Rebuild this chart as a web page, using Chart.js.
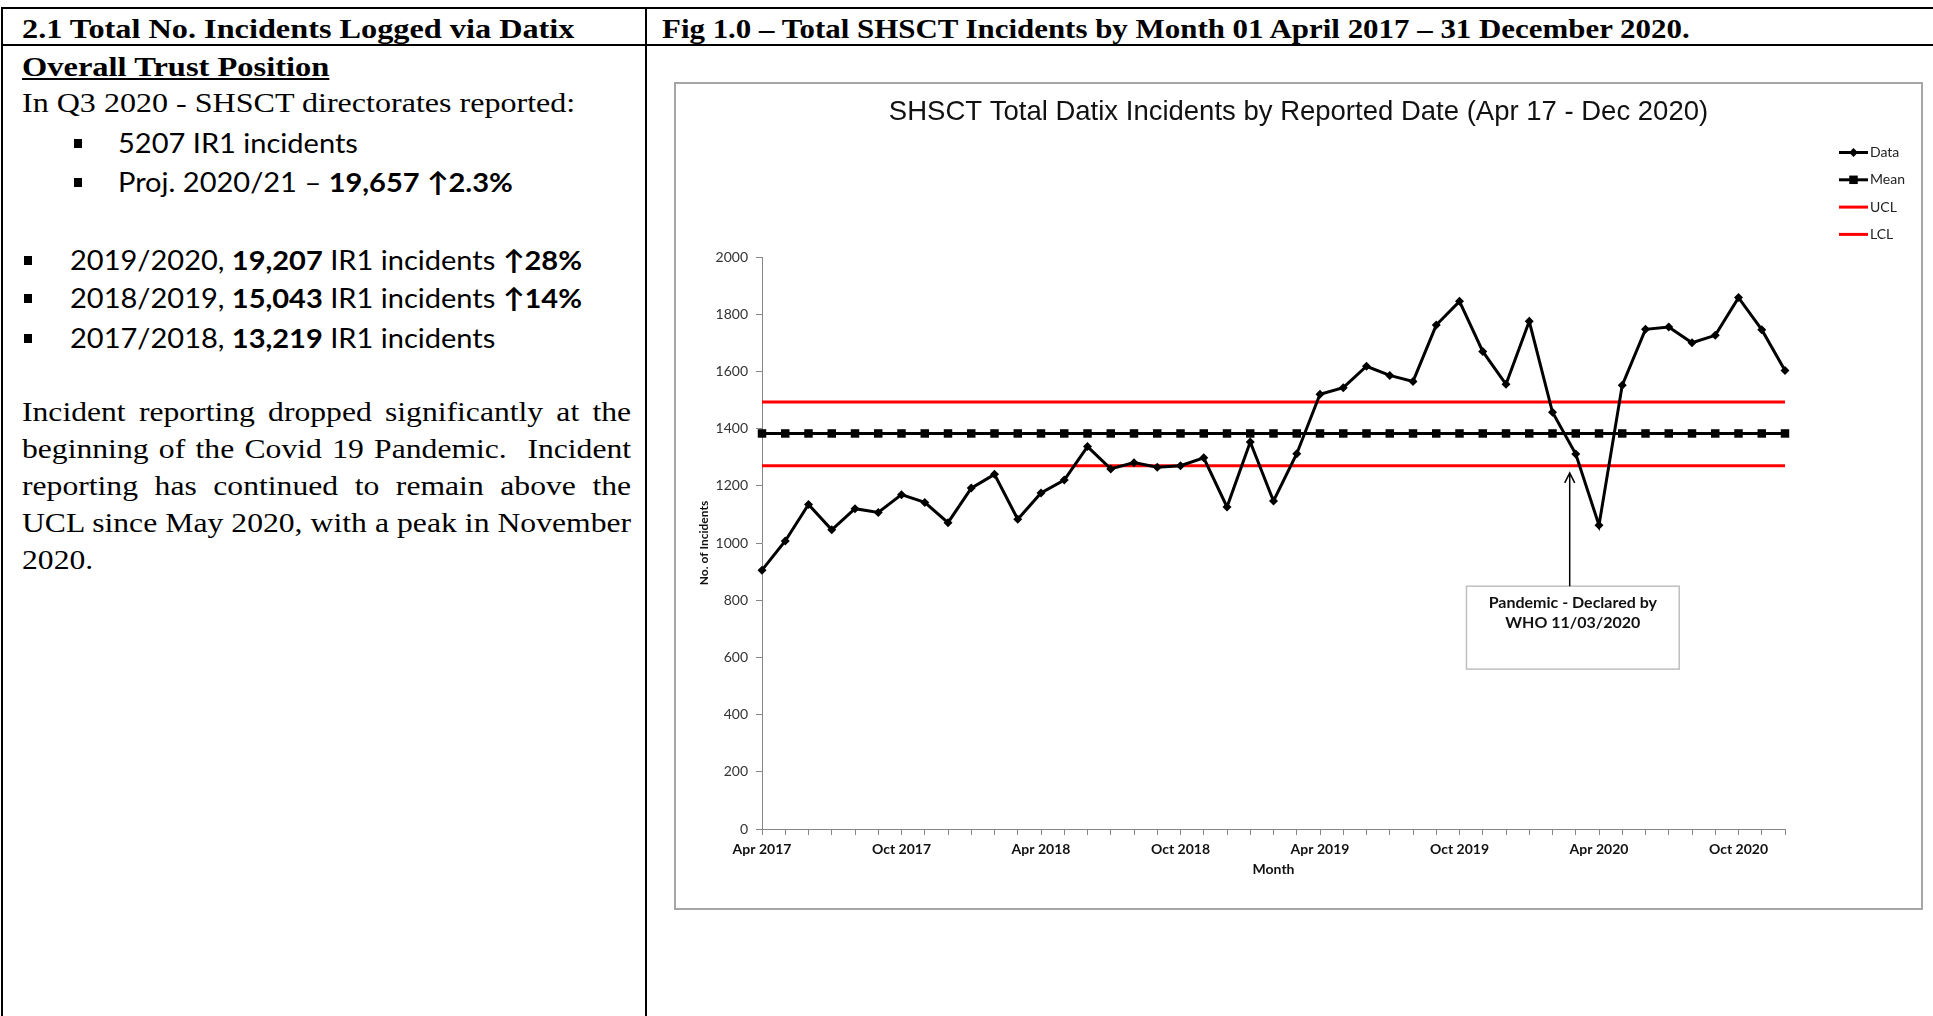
<!DOCTYPE html>
<html>
<head>
<meta charset="utf-8">
<title>SHSCT Total Datix Incidents</title>
<script src="https://cdn.jsdelivr.net/npm/chart.js@4.4.1/dist/chart.umd.min.js"></script>
<style>
    body { margin: 0; width: 1933px; height: 1016px; background: #fff; position: relative; overflow: hidden; }
    .rule { position: absolute; background: #000; }
    .serif { position: absolute; font-family: "Liberation Serif", "Times New Roman", serif; font-size: 28px; line-height: 30px; color: #000; white-space: nowrap; transform-origin: 0 50%; }
    .sans { position: absolute; font-family: Lato, "Open Sans", sans-serif; font-size: 27px; line-height: 30px; color: #000; white-space: nowrap; transform-origin: 0 50%; transform: scaleX(1.075); }
    .sq { position: absolute; width: 8px; height: 9px; background: #000; }
    .para { position: absolute; left: 22px; width: 539px; font-family: "Liberation Serif", "Times New Roman", serif; font-size: 28px; line-height: 30px; text-align: justify; text-align-last: justify; white-space: nowrap; transform-origin: 0 50%; transform: scaleX(1.13); }
    .para.last { text-align-last: left; }
    #chartBox { position: absolute; left: 674px; top: 82px; width: 1249px; height: 828px; border: 2px solid #a6a6a6; box-sizing: border-box; background: #fff; }
    #chartBox canvas { position: absolute; left: 0; top: 0; }
</style>
</head>
<body>

<!-- table rules -->
<div class="rule" style="left:1px; top:7px; width:1932px; height:2px;"></div>
<div class="rule" style="left:1px; top:44px; width:1932px; height:2px;"></div>
<div class="rule" style="left:1px; top:7px; width:2px; height:1009px;"></div>
<div class="rule" style="left:645px; top:7px; width:2px; height:1009px;"></div>

<!-- header row -->
<div class="serif" style="left:22px; top:14px; font-weight:bold; transform:scaleX(1.153);">2.1 Total No. Incidents Logged via Datix</div>
<div class="serif" style="left:662px; top:14px; font-weight:bold; transform:scaleX(1.104);">Fig 1.0 – Total SHSCT Incidents by Month 01 April 2017 – 31 December 2020.</div>

<!-- left column text -->
<div class="serif" style="left:22px; top:52px; font-weight:bold; text-decoration:underline; transform:scaleX(1.16);">Overall Trust Position</div>
<div class="serif" style="left:22px; top:88px; transform:scaleX(1.145);">In Q3 2020 - SHSCT directorates reported:</div>

<div class="sq" style="left:74px; top:139px;"></div>
<div class="sans" style="left:118px; top:128px;">5207 IR1 incidents</div>
<div class="sq" style="left:74px; top:178px;"></div>
<div class="sans" style="left:118px; top:167px;">Proj. 2020/21 – <b>19,657 ↑2.3%</b></div>

<div class="sq" style="left:24px; top:256px;"></div>
<div class="sans" style="left:70px; top:245px;">2019/2020, <b>19,207</b> IR1 incidents <b>↑28%</b></div>
<div class="sq" style="left:24px; top:294px;"></div>
<div class="sans" style="left:70px; top:283px;">2018/2019, <b>15,043</b> IR1 incidents <b>↑14%</b></div>
<div class="sq" style="left:24px; top:334px;"></div>
<div class="sans" style="left:70px; top:323px;">2017/2018, <b>13,219</b> IR1 incidents</div>

<div class="para" style="top:397px;">Incident reporting dropped significantly at the</div>
<div class="para" style="top:434px;">beginning of the Covid 19 Pandemic.&nbsp; Incident</div>
<div class="para" style="top:471px;">reporting has continued to remain above the</div>
<div class="para" style="top:508px;">UCL since May 2020, with a peak in November</div>
<div class="para last" style="top:545px;">2020.</div>

<!-- chart -->
<div id="chartBox"><canvas id="incidentChart" width="1245" height="824"></canvas></div>

<script>
// -------------------------------------------------
// Data (Apr 2017 - Dec 2020)
// -------------------------------------------------
const months = [
    'Apr 2017', 'May 2017', 'Jun 2017', 'Jul 2017', 'Aug 2017', 'Sep 2017', 'Oct 2017', 'Nov 2017', 'Dec 2017',
    'Jan 2018', 'Feb 2018', 'Mar 2018', 'Apr 2018', 'May 2018', 'Jun 2018', 'Jul 2018', 'Aug 2018', 'Sep 2018',
    'Oct 2018', 'Nov 2018', 'Dec 2018', 'Jan 2019', 'Feb 2019', 'Mar 2019', 'Apr 2019', 'May 2019', 'Jun 2019',
    'Jul 2019', 'Aug 2019', 'Sep 2019', 'Oct 2019', 'Nov 2019', 'Dec 2019', 'Jan 2020', 'Feb 2020', 'Mar 2020',
    'Apr 2020', 'May 2020', 'Jun 2020', 'Jul 2020', 'Aug 2020', 'Sep 2020', 'Oct 2020', 'Nov 2020', 'Dec 2020'
];

const incidents = [
    905, 1007, 1135, 1046, 1120, 1107, 1169, 1142, 1071, 1192, 1240, 1083,
    1175, 1220, 1337, 1259, 1281, 1265, 1270, 1298, 1126, 1353, 1147, 1312,
    1520, 1543, 1618, 1586, 1565, 1762, 1845, 1670, 1555, 1775, 1457, 1311,
    1062, 1552, 1747, 1755, 1700, 1726, 1858, 1746, 1603
];

const meanLine = [
    1383, 1383, 1383, 1383, 1383, 1383, 1383, 1383, 1383, 1383, 1383, 1383, 1383, 1383, 1383,
    1383, 1383, 1383, 1383, 1383, 1383, 1383, 1383, 1383, 1383, 1383, 1383, 1383, 1383, 1383,
    1383, 1383, 1383, 1383, 1383, 1383, 1383, 1383, 1383, 1383, 1383, 1383, 1383, 1383, 1383
];

const uclLine = [
    1493, 1493, 1493, 1493, 1493, 1493, 1493, 1493, 1493, 1493, 1493, 1493, 1493, 1493, 1493,
    1493, 1493, 1493, 1493, 1493, 1493, 1493, 1493, 1493, 1493, 1493, 1493, 1493, 1493, 1493,
    1493, 1493, 1493, 1493, 1493, 1493, 1493, 1493, 1493, 1493, 1493, 1493, 1493, 1493, 1493
];

const lclLine = [
    1270, 1270, 1270, 1270, 1270, 1270, 1270, 1270, 1270, 1270, 1270, 1270, 1270, 1270, 1270,
    1270, 1270, 1270, 1270, 1270, 1270, 1270, 1270, 1270, 1270, 1270, 1270, 1270, 1270, 1270,
    1270, 1270, 1270, 1270, 1270, 1270, 1270, 1270, 1270, 1270, 1270, 1270, 1270, 1270, 1270
];

// annotation: pandemic declared (in axis units)
const pandemicNote = ['Pandemic - Declared by', 'WHO 11/03/2020'];
const noteArrowAt = 34.74;     // month index
const noteArrowTip = 1245;     // incidents
const noteBox = { from: 30.3, to: 39.45, top: 849, bottom: 559 };

const sansFont = 'Lato, "Open Sans", sans-serif';

// -------------------------------------------------
// Legend drawn in the top right corner (line + marker)
// -------------------------------------------------
const cornerLegend = {
    id: 'cornerLegend',
    afterDraw(chart) {
        const ctx = chart.ctx;
        const x0 = 1163, x1 = 1192;
        let y = 68.5;
        ctx.save();
        ctx.font = '14px ' + sansFont;
        ctx.textBaseline = 'middle';
        chart.data.datasets.forEach(ds => {
            ctx.strokeStyle = ds.borderColor;
            ctx.lineWidth = ds.borderWidth;
            ctx.beginPath();
            ctx.moveTo(x0, y);
            ctx.lineTo(x1, y);
            ctx.stroke();
            if (ds.pointRadius > 0) {
                ctx.fillStyle = ds.pointBackgroundColor;
                Chart.helpers.drawPoint(ctx, {
                    pointStyle: ds.pointStyle,
                    radius: ds.pointRadius,
                    borderWidth: 0
                }, (x0 + x1) / 2, y);
            }
            ctx.fillStyle = '#222';
            ctx.fillText(ds.label, x1 + 2, y);
            y += 27.3;
        });
        ctx.restore();
    }
};

// -------------------------------------------------
// Text box + arrow for the pandemic note
// -------------------------------------------------
const pandemicArrow = {
    id: 'pandemicArrow',
    afterDatasetsDraw(chart) {
        const ctx = chart.ctx;
        const xs = chart.scales.x, ys = chart.scales.y;
        const ax = xs.getPixelForValue(noteArrowAt);
        const tipY = ys.getPixelForValue(noteArrowTip);
        const bx0 = xs.getPixelForValue(noteBox.from), bx1 = xs.getPixelForValue(noteBox.to);
        const by0 = ys.getPixelForValue(noteBox.top), by1 = ys.getPixelForValue(noteBox.bottom);
        ctx.save();
        ctx.fillStyle = '#fff';
        ctx.fillRect(bx0, by0, bx1 - bx0, by1 - by0);
        ctx.strokeStyle = '#bfbfbf';
        ctx.lineWidth = 1.5;
        ctx.strokeRect(bx0, by0, bx1 - bx0, by1 - by0);

        ctx.strokeStyle = '#000';
        ctx.lineWidth = 1.5;
        ctx.beginPath();
        ctx.moveTo(ax, by0);
        ctx.lineTo(ax, tipY);
        ctx.moveTo(ax - 5, tipY + 10);
        ctx.lineTo(ax, tipY);
        ctx.lineTo(ax + 5, tipY + 10);
        ctx.stroke();

        ctx.fillStyle = '#111';
        ctx.font = 'bold 16px ' + sansFont;
        ctx.textAlign = 'center';
        ctx.textBaseline = 'middle';
        const cx = (bx0 + bx1) / 2;
        ctx.fillText(pandemicNote[0], cx, by0 + 17);
        ctx.fillText(pandemicNote[1], cx, by0 + 37);
        ctx.restore();
    }
};

const ctx = document.getElementById('incidentChart').getContext('2d');
new Chart(ctx, {
    type: 'line',
    data: {
        labels: months,
        datasets: [
            {
                label: 'Data',
                data: incidents,
                borderColor: '#000',
                borderWidth: 3,
                pointStyle: 'rectRot',
                pointRadius: 4.5,
                pointBackgroundColor: '#000',
                pointBorderWidth: 0,
                tension: 0
            },
            {
                label: 'Mean',
                data: meanLine,
                borderColor: '#000',
                borderWidth: 3,
                pointStyle: 'rect',
                pointRadius: 6,
                pointBackgroundColor: '#000',
                pointBorderWidth: 0
            },
            {
                label: 'UCL',
                data: uclLine,
                borderColor: '#ff0000',
                borderWidth: 3,
                pointRadius: 0
            },
            {
                label: 'LCL',
                data: lclLine,
                borderColor: '#ff0000',
                borderWidth: 3,
                pointRadius: 0
            }
        ]
    },
    options: {
        responsive: false,
        animation: false,
        devicePixelRatio: 1,
        layout: { padding: { left: 0, right: 0, top: 0, bottom: 19 } },
        plugins: {
            legend: { display: false },
            tooltip: { enabled: false },
            title: {
                display: true,
                text: 'SHSCT Total Datix Incidents by Reported Date (Apr 17 - Dec 2020)',
                color: '#111',
                font: { family: '"Liberation Sans", Arial, sans-serif', size: 27.5, weight: 'normal', lineHeight: 1.2 },
                padding: { top: 12, bottom: 128 }
            }
        },
        scales: {
            x: {
                grid: { display: true, drawOnChartArea: false, drawTicks: true, tickLength: 6, color: '#868686' },
                border: { color: '#868686', width: 1 },
                ticks: {
                    autoSkip: false,
                    maxRotation: 0,
                    padding: 6,
                    color: '#111',
                    font: { family: sansFont, size: 14, weight: 'bold' },
                    callback: function (value, index) {
                        return index % 6 === 0 ? this.getLabelForValue(value) : '';
                    }
                },
                title: {
                    display: true,
                    text: 'Month',
                    color: '#111',
                    font: { family: sansFont, size: 14, weight: 'bold', lineHeight: 1.2 },
                    padding: { top: 0, bottom: 11 }
                },
                afterFit: scale => { scale.height = 60; }
            },
            y: {
                min: 0,
                max: 2000,
                grid: { display: true, drawOnChartArea: false, drawTicks: true, tickLength: 6, color: '#868686' },
                border: { color: '#868686', width: 1 },
                ticks: {
                    stepSize: 200,
                    padding: 8,
                    color: '#333',
                    font: { family: sansFont, size: 14 },
                    callback: value => String(value)
                },
                title: {
                    display: true,
                    text: 'No. of Incidents',
                    color: '#111',
                    font: { family: sansFont, size: 12, weight: 'bold', lineHeight: 1.2 },
                    padding: { top: 21, bottom: 0 }
                },
                afterFit: scale => { scale.width = 86; }
            },
            // empty right-hand axis keeps room for the legend without shifting the title
            legendSpace: {
                type: 'linear',
                position: 'right',
                grid: { display: false, drawTicks: false },
                border: { display: false },
                ticks: { display: false },
                afterFit: scale => { scale.width = 136; }
            }
        }
    },
    plugins: [pandemicArrow, cornerLegend]
});
</script>
</body>
</html>
